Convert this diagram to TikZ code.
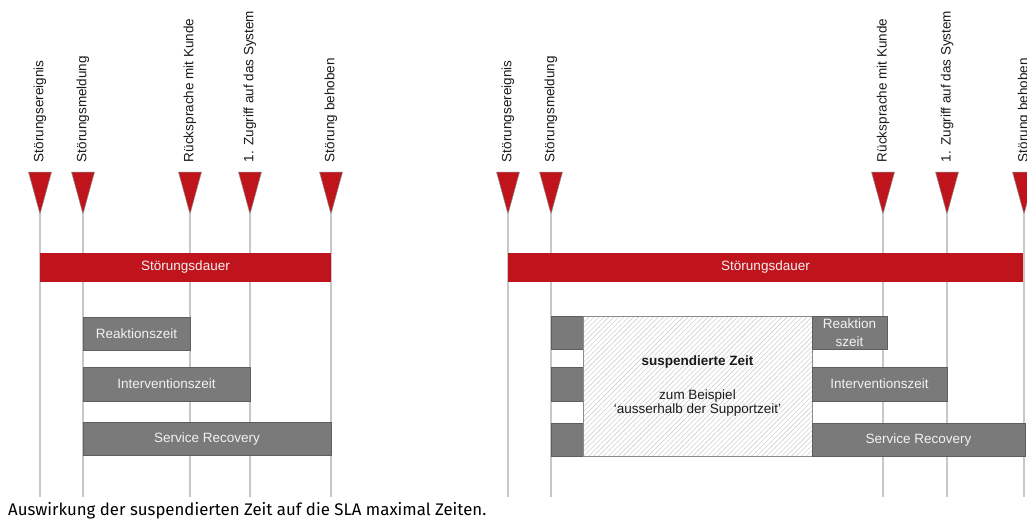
\documentclass[tikz,border=0pt]{standalone}
\usepackage{fontspec}
\setmainfont{Liberation Sans}
\newfontfamily\capfont{Fira Sans}
\usetikzlibrary{patterns.meta}
\definecolor{rred}{HTML}{C0141C}
\definecolor{gfill}{HTML}{7A7A7A}
\definecolor{gedge}{HTML}{5E5E5E}
\definecolor{vgray}{HTML}{C8C8C8}
\definecolor{hgray}{HTML}{D2D2D2}
\definecolor{hedge}{HTML}{8C8C8C}
\definecolor{ltext}{HTML}{F2F2F2}
\definecolor{dtext}{HTML}{1A1A1A}
\tikzset{
  lblfont/.style={font=\fontsize{13.5}{16}\selectfont},
  vline/.style={draw=vgray, line width=1.3pt},
  trimark/.style={fill=rred, draw=hedge, line width=0.5pt, line join=miter},
  evlabel/.style={lblfont, rotate=90, anchor=west, inner sep=0pt, outer sep=0pt, text=dtext},
  redbar/.style={lblfont, fill=rred, draw=none, text=ltext, inner sep=0pt, outer sep=0pt, anchor=north west},
  graybox/.style={lblfont, fill=gfill, draw=gedge, line width=0.6pt, text=ltext, inner sep=0pt, outer sep=0pt, anchor=north west, align=center},
  suspbox/.style={lblfont, draw=hedge, line width=0.8pt, pattern={Lines[angle=45,distance=3.5pt,line width=0.6pt]}, pattern color=hgray, inner sep=0pt, outer sep=0pt, anchor=north west, align=center, text=dtext},
}
\newcommand{\evmark}[3]{% name, x, label
  \fill[trimark] (#2-11.5,172) -- (#2+11.5,172) -- (#2,214) -- cycle;
  \coordinate (#1t) at (#2,214);
  \coordinate (#1b) at (#2,497);
  \draw[vline] (#1t) -- (#1b);
  \node[evlabel] (#1l) at (#2,162) {#3};
}
\begin{document}
\begin{tikzpicture}[x=1pt,y=-1pt]
\useasboundingbox (0,0) rectangle (1027,520);
\fill[white] (0,0) rectangle (1027,520);

% ---------- left diagram ----------
\evmark{la}{40}{Störungsereignis}
\evmark{lb}{83}{Störungsmeldung}
\evmark{lc}{190}{Rücksprache mit Kunde}
\evmark{ld}{250}{1. Zugriff auf das System}
\evmark{le}{331}{Störung behoben}

\node[redbar, minimum width=291pt, minimum height=29pt] (ldauer) at (40,253) {Störungsdauer};
\node[graybox, minimum width=107pt, minimum height=33pt] (lreak) at (83,317) {Reaktionszeit};
\node[graybox, minimum width=167pt, minimum height=34pt] (linter) at (83,367) {Interventionszeit};
\node[graybox, minimum width=248pt, minimum height=33pt] (lserv) at (83,422) {Service Recovery};

% ---------- right diagram ----------
\evmark{ra}{508}{Störungsereignis}
\evmark{rb}{551}{Störungsmeldung}
\evmark{rc}{883}{Rücksprache mit Kunde}
\evmark{rd}{947}{1. Zugriff auf das System}
\evmark{re}{1024}{Störung behoben}

\node[redbar, minimum width=515pt, minimum height=29pt] (rdauer) at (508,253) {Störungsdauer};

\node[graybox, minimum width=32pt, minimum height=33pt] (rreak0) at (551,316) {};
\node[graybox, minimum width=32pt, minimum height=34pt] (rinter0) at (551,367) {};
\node[graybox, minimum width=32pt, minimum height=33pt] (rserv0) at (551,423) {};

\node[suspbox, minimum width=229pt, minimum height=140pt] (susp) at (583,316) {};
\node[lblfont, text=dtext, inner sep=0pt] (susptitle) at (697.5,362) {\textbf{suspendierte Zeit}};
\node[lblfont, text=dtext, inner sep=0pt, align=center] (susptext) at (697.5,403) {zum Beispiel\\[-1.5pt]`ausserhalb der Supportzeit'};

\node[graybox, minimum width=75pt, minimum height=33pt] (rreak) at (812,316) {Reaktion\\[2pt]szeit};
\node[graybox, minimum width=135pt, minimum height=34pt] (rinter) at (812,367) {Interventionszeit};
\node[graybox, minimum width=213pt, minimum height=33pt] (rserv) at (812,423) {Service Recovery};

% ---------- caption ----------
\node[font=\capfont\fontsize{16.8}{20}\selectfont, anchor=base west, inner sep=0pt, text=black] (cap) at (8,515) {Auswirkung der suspendierten Zeit auf die SLA maximal Zeiten.};
\end{tikzpicture}
\end{document}
